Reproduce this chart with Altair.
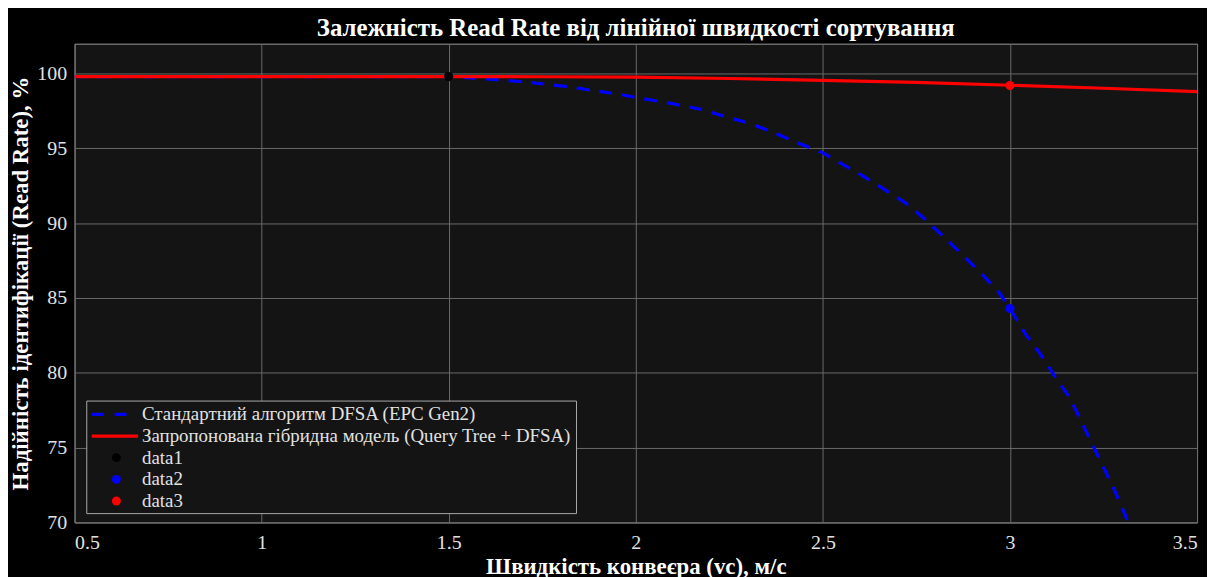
import altair as alt
import pandas as pd

# ---- data ----
blue_x = [0.5, 1.0, 1.5, 1.61, 1.69, 1.76, 1.83, 1.89, 1.96, 2.0, 2.09, 2.17, 2.23, 2.30,
          2.36, 2.42, 2.5, 2.53, 2.60, 2.66, 2.72, 2.77, 2.82, 2.87, 2.92, 2.97, 3.0,
          3.04, 3.08, 3.12, 3.16, 3.19, 3.22, 3.25, 3.28, 3.31, 3.315]
blue_y = [99.8, 99.8, 99.8, 99.62, 99.47, 99.29, 99.09, 98.85, 98.6, 98.4, 98.03, 97.63, 97.19, 96.7,
          96.15, 95.5, 94.7, 94.25, 93.26, 92.33, 91.37, 90.33, 89.16, 87.95, 86.73, 85.4, 84.3,
          82.64, 81.3, 79.76, 78.33, 76.78, 75.23, 73.68, 72.13, 70.37, 70.0]

red_x = [0.5, 1.0, 1.5, 1.75, 2.0, 2.25, 2.5, 2.75, 3.0, 3.25, 3.5]
red_y = [99.8, 99.8, 99.8, 99.79, 99.76, 99.67, 99.55, 99.41, 99.22, 99.02, 98.8]

pt_series = ["data1", "data2", "data3"]
pt_x = [1.5, 3.0, 3.0]
pt_y = [99.8, 84.3, 99.2]
pt_colors = ["#000000", "#0000ff", "#ff0000"]

line_labels = ["Стандартний алгоритм DFSA (EPC Gen2)",
               "Запропонована гібридна модель (Query Tree + DFSA)"]

x_ticks = [0.5, 1, 1.5, 2, 2.5, 3, 3.5]
y_ticks = [70, 75, 80, 85, 90, 95, 100]

title_text = "Залежність Read Rate від лінійної швидкості сортування"
x_title = "Швидкість конвеєра (vc), м/с"
y_title = "Надійність ідентифікації (Read Rate), %"

FONT = "Liberation Serif, Times New Roman, serif"
PLOT_BG = "#141414"
TXT = "#e2e2e2"

blue_df = pd.DataFrame({"x": blue_x, "y": blue_y})
red_df = pd.DataFrame({"x": red_x, "y": red_y})
pt_df = pd.DataFrame({"x": pt_x, "y": pt_y, "series": pt_series})
one = pd.DataFrame({"k": [0]})

xs = alt.Scale(domain=[0.5, 3.5], nice=False, zero=False)
ys = alt.Scale(domain=[70, 102], nice=False, zero=False)

xenc = alt.X("x:Q", scale=xs, title=x_title,
             axis=alt.Axis(values=x_ticks, format="~r", labelPadding=10, titlePadding=3))
yenc = alt.Y("y:Q", scale=ys, title=y_title,
             axis=alt.Axis(values=y_ticks, format="~r", labelPadding=8, titlePadding=4))

blue = alt.Chart(blue_df).mark_line(color="#0000ff", strokeWidth=3.2, strokeDash=[13, 10],
                                    clip=True).encode(x=xenc, y=yenc)
red = alt.Chart(red_df).mark_line(color="#ff0000", strokeWidth=3.2, clip=True).encode(x=xenc, y=yenc)

pts = alt.Chart(pt_df).mark_point(filled=True, size=85, opacity=1).encode(
    x=xenc, y=yenc,
    color=alt.Color("series:N", scale=alt.Scale(domain=pt_series, range=pt_colors), legend=None),
)

# ---- legend drawn inside the plot (layout constants, px from the plot's top-left) ----
LX0, LX1, LY0, LY1 = 12.3, 505.3, 359.8, 473.1
ROW0, ROWH = 373.2, 21.8
SYM_X0, DOT_X, TXT_X = 17.3, 42.1, 67.9

layers = [blue, red, pts]
layers.append(alt.Chart(one).mark_rect(fill=PLOT_BG, stroke="#a8a8a8", strokeWidth=1).encode(
    x=alt.value(LX0), x2=alt.value(LX1), y=alt.value(LY0), y2=alt.value(LY1)))
layers.append(alt.Chart(one).mark_rule(color="#0000ff", strokeWidth=3.2, strokeDash=[12, 11]).encode(
    x=alt.value(SYM_X0), x2=alt.value(56), y=alt.value(ROW0)))
layers.append(alt.Chart(one).mark_rule(color="#ff0000", strokeWidth=3.2).encode(
    x=alt.value(SYM_X0), x2=alt.value(64), y=alt.value(ROW0 + ROWH)))
for i, (name, col) in enumerate(zip(pt_series, pt_colors)):
    layers.append(alt.Chart(one).mark_point(filled=True, size=80, color=col, opacity=1).encode(
        x=alt.value(DOT_X), y=alt.value(ROW0 + ROWH * (i + 2))))
for i, lab in enumerate(line_labels + pt_series):
    layers.append(alt.Chart(one).mark_text(text=lab, align="left", baseline="middle",
                                           font=FONT, fontSize=19, color=TXT).encode(
        x=alt.value(TXT_X), y=alt.value(ROW0 + ROWH * i)))

chart = alt.layer(*layers).properties(
    width=1130, height=482,
    title=alt.Title(title_text, font=FONT, fontSize=25, fontWeight="bold", color="#ffffff",
                    anchor="middle", offset=3),
    autosize=alt.AutoSizeParams(type="none"),
    padding={"left": 67, "top": 34, "right": 10, "bottom": 53},
    background="#000000",
).configure_view(
    fill=PLOT_BG, stroke="#9a9a9a", strokeWidth=1
).configure_axis(
    domain=False, ticks=False,
    grid=True, gridColor="#6a6a6a", gridWidth=1,
    labelFont=FONT, labelFontSize=20, labelColor=TXT,
    titleFont=FONT, titleFontSize=23, titleFontWeight="bold", titleColor="#ffffff",
)

chart.save("out.html", embed_options={"renderer": "svg", "actions": False})
